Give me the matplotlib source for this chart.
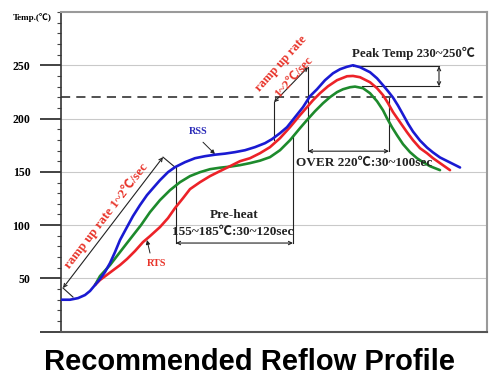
import matplotlib
matplotlib.use('Agg')
import matplotlib.pyplot as plt
from matplotlib.ticker import MultipleLocator

# ---- data (time in s, temperature in deg C) ----
time_rss = [0, 9, 17, 24, 29, 34, 39, 44, 49, 54, 59, 66, 72, 79, 86, 92, 99, 107, 114,
            124, 134, 144, 154, 164, 174, 184, 194, 204, 211, 219, 226, 234, 242, 249,
            256, 264, 272, 279, 286, 292, 299, 309, 316, 322, 327, 332, 337, 342, 347,
            352, 359, 366, 372, 379, 389, 399]
temp_rss = [30.0, 30.0, 31.5, 34.4, 38.2, 43.8, 49.4, 56.0, 64.4, 74.7, 86.0, 98.2, 108.5,
            118.8, 128.2, 134.7, 142.2, 149.7, 154.4, 159.1, 162.8, 164.7, 166.1, 167.1,
            168.5, 170.3, 173.2, 176.9, 180.7, 186.3, 191.9, 201.3, 210.7, 221.0, 227.5,
            236.0, 242.5, 246.3, 248.6, 250.0, 248.2, 243.5, 237.8, 231.3, 225.7, 219.7,
            212.2, 203.8, 195.3, 187.8, 179.4, 172.8, 168.2, 163.5, 158.8, 154.1]

time_rts = [34, 39, 49, 59, 66, 74, 82, 89, 99, 107, 114, 122, 129, 139, 149, 159, 169,
            179, 189, 199, 209, 219, 229, 239, 246, 252, 259, 267, 276, 286, 292, 299, 309,
            316, 322, 327, 332, 339, 346, 352, 359, 366, 372, 379, 389]
temp_rts = [43.8, 48.5, 55.5, 62.5, 68.2, 75.7, 84.1, 89.7, 98.2, 106.6, 116.0, 125.3,
            133.8, 140.3, 146.0, 150.7, 155.3, 160.0, 162.8, 167.5, 173.2, 181.6, 191.9,
            203.2, 210.7, 217.2, 223.8, 230.3, 236.0, 239.7, 240.0, 238.8, 234.1, 228.5,
            222.0, 214.5, 206.1, 196.6, 187.2, 179.7, 172.2, 167.5, 162.8, 158.2, 151.6]

time_mid = [34, 39, 49, 59, 66, 73, 80, 89, 99, 109, 119, 129, 139, 149, 159, 169, 179, 189,
            199, 209, 219, 229, 239, 246, 254, 262, 269, 276, 282, 289, 294, 302, 309, 316,
            322, 326, 331, 336, 342, 349, 356, 362, 369, 379]
temp_mid = [43.8, 52.2, 62.5, 74.7, 83.2, 91.6, 100.0, 112.2, 123.5, 132.8, 140.3, 146.0,
            149.7, 152.5, 153.9, 154.9, 156.3, 158.2, 160.5, 163.8, 170.3, 179.7, 191.0,
            198.6, 206.9, 214.4, 220.1, 224.8, 227.5, 229.4, 230.0, 228.5, 223.8, 216.3,
            207.8, 200.3, 191.9, 184.4, 176.0, 168.5, 162.8, 159.1, 155.3, 151.6]

ytick_values = [0, 50, 100, 150, 200, 250]
ytick_labels = ['', '50', '100', '150', '200', '250']
grid_temps = [50, 100, 150, 200, 250]
liquidus_temp = 220

BLUE = '#1a1ad2'
RED = '#ec2228'
GREEN = '#1d8a2c'
TXT_RED = '#e8352b'
TXT_BLUE = '#2b2bb8'
INK = '#222222'
SERIF = ['Liberation Serif', 'Noto Sans CJK SC', 'DejaVu Sans']

fig = plt.figure(figsize=(5, 3.76), dpi=100)
ax = fig.add_axes([61 / 500, 44.3 / 376, 426 / 500, 319.7 / 376])
ax.set_xlim(0, 426)
ax.set_ylim(0, 300)

# grid + liquidus line
ax.hlines(grid_temps, 0, 426, color='#c9c9c9', lw=0.8, zorder=0)
ax.axhline(liquidus_temp, color=INK, lw=1.1, dashes=(6, 4), zorder=1)

# profiles
ax.plot(time_mid, temp_mid, color=GREEN, lw=1.9, zorder=3, solid_capstyle='round')
ax.plot(time_rts, temp_rts, color=RED, lw=1.9, zorder=3, solid_capstyle='round')
ax.plot(time_rss, temp_rss, color=BLUE, lw=1.9, zorder=4, solid_capstyle='round')

# axes styling
ax.set_xticks([])
ax.set_yticks(ytick_values, ytick_labels)
ax.yaxis.set_minor_locator(MultipleLocator(10))
ax.tick_params(axis='y', which='major', length=15, width=1.2, direction='out',
               pad=7, labelsize=8.5, color='#222')
ax.tick_params(axis='y', which='minor', length=3, width=0.8, direction='out', color='#444')
ax.yaxis.get_major_ticks()[5].tick1line.set_color('#b0b0b0')
for lab in ax.get_yticklabels():
    lab.set_fontfamily(SERIF)
    lab.set_fontweight('bold')
for s in ('top', 'right'):
    ax.spines[s].set_color('#9a9a9a')
    ax.spines[s].set_linewidth(1.5)
ax.spines['left'].set_color('#333333')
ax.spines['left'].set_linewidth(1.2)
ax.spines['bottom'].set_color('#555555')
ax.spines['bottom'].set_linewidth(1.5)


def seg(p1, p2):
    ax.plot([p1[0], p2[0]], [p1[1], p2[1]], color=INK, lw=0.8, zorder=2)


def dim(p1, p2):
    ax.annotate('', xy=p2, xytext=p1,
                arrowprops=dict(arrowstyle='<->', lw=0.8, color=INK,
                                shrinkA=0, shrinkB=0, mutation_scale=6), zorder=2)


def label(x, y, s, color=INK, size=9.3, rot=0):
    ax.text(x, y, s, color=color, fontsize=size, fontweight='bold', family=SERIF,
            ha='center', va='center', rotation=rot, rotation_mode='anchor', zorder=5)


# ramp 1
dim((2, 41.0), (102, 163.8))
seg((2, 41.0), (12, 32.5))
seg((102, 163.8), (114, 154.4))
label(45, 109, 'ramp up rate 1~2℃/sec', TXT_RED, 9.3, 52.5)

# pre-heat
seg((115, 154.4), (115, 83.2))
seg((232, 184.4), (232, 83.2))
dim((115, 83.2), (232, 83.2))
label(173, 109.4, 'Pre-heat', size=9.5)
label(172, 93.6, '155~185℃:30~120sec', size=9.5)

# ramp 2
seg((213, 179.8), (213, 215.3))
dim((213, 215.3), (247, 248.2))
label(220, 251.5, 'ramp up rate', TXT_RED, 9.0, 48)
label(232.5, 238.8, '1~2℃/sec', TXT_RED, 9.0, 48)

# over 220
seg((247, 248.2), (247, 169.4))
seg((328, 219.7), (328, 169.4))
dim((247, 169.4), (328, 169.4))
label(303.5, 158.2, 'OVER 220℃:30~100sec', size=9.5)

# peak
seg((292, 249.1), (378, 249.1))
seg((301, 230.3), (378, 230.3))
dim((378, 249.1), (378, 230.3))
label(352, 261.2, 'Peak Temp 230~250℃', size=9.3)

# series labels
label(137, 188.2, 'RSS', TXT_BLUE, 7.3)
ax.annotate('', xy=(154, 166.6), xytext=(142, 177.8),
            arrowprops=dict(arrowstyle='-|>', lw=0.7, color=INK, mutation_scale=6,
                            shrinkA=0, shrinkB=0))
label(96, 64.4, 'RTS', TXT_RED, 7.3)
ax.annotate('', xy=(86, 86.0), xytext=(89, 73.8),
            arrowprops=dict(arrowstyle='-|>', lw=0.7, color=INK, mutation_scale=6,
                            shrinkA=0, shrinkB=0))

fig.text(13 / 500, 1 - 17 / 376, 'Temp.(℃)', fontsize=6.5, fontweight='bold',
         family=SERIF, ha='left', va='center')
fig.text(0.5, 1 - 362 / 376, 'Recommended Reflow Profile', fontsize=21,
         fontweight='bold', family=['Liberation Sans', 'DejaVu Sans'],
         ha='center', va='center')

fig.savefig('out.png', dpi=100)
